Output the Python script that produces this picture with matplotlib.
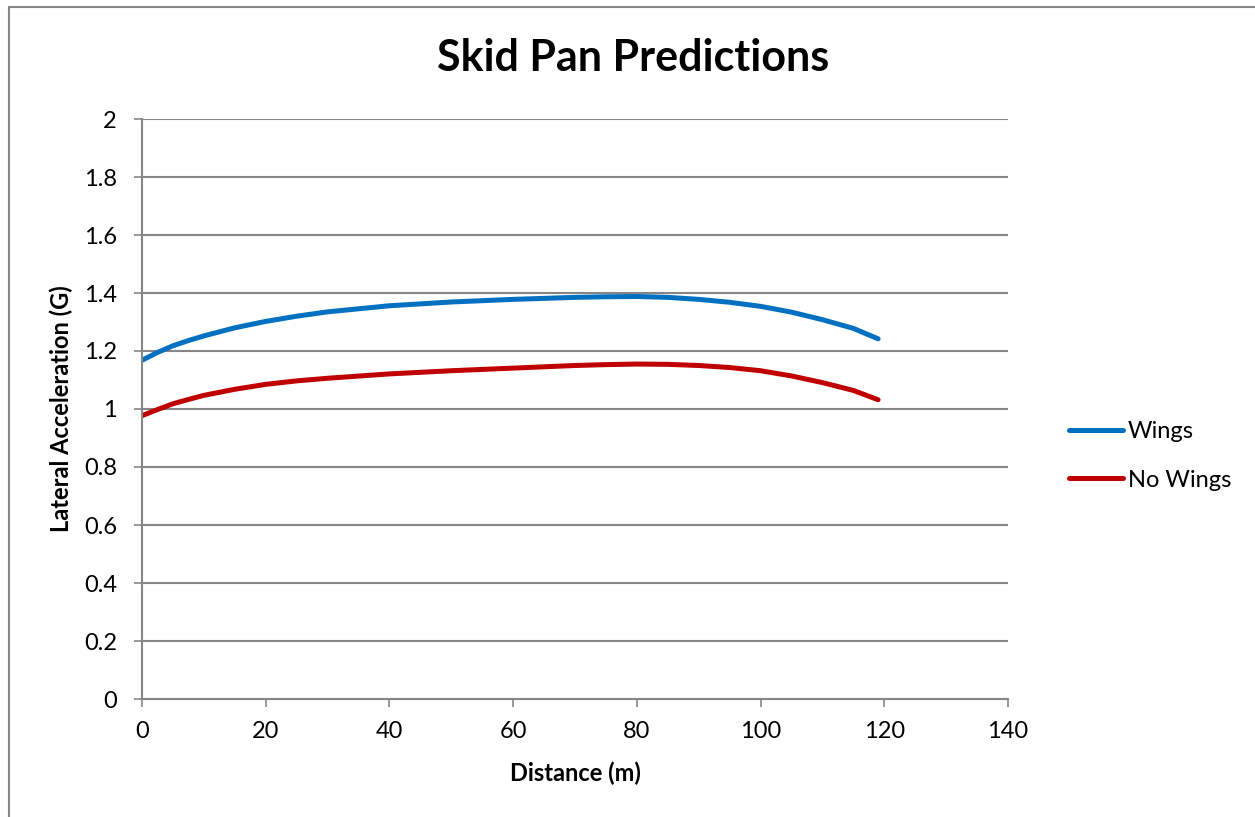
import matplotlib
matplotlib.use("Agg")
import matplotlib.pyplot as plt
from matplotlib.patches import Rectangle

plt.rcParams['font.family'] = ['Lato', 'DejaVu Sans']

# distance along the skid pan (m)
distance = [0, 2.5, 5, 7.5, 10, 15, 20, 25, 30, 40, 50, 60, 70, 75, 80, 85, 90, 95, 100, 105, 110, 115, 119]
# lateral acceleration (G)
wings = [1.168, 1.195, 1.218, 1.236, 1.252, 1.280, 1.302, 1.320, 1.335, 1.356, 1.369,
         1.378, 1.385, 1.387, 1.388, 1.385, 1.378, 1.368, 1.354, 1.334, 1.308, 1.278, 1.242]
no_wings = [0.977, 0.998, 1.018, 1.033, 1.047, 1.068, 1.085, 1.097, 1.106, 1.121, 1.132,
            1.141, 1.150, 1.153, 1.155, 1.154, 1.150, 1.143, 1.132, 1.114, 1.091, 1.064, 1.032]

grey = '#868686'

fig = plt.figure(figsize=(12.55, 8.17), dpi=100)
ax = fig.add_axes([142/1255, 1 - 699/817, 866/1255, 580/817])

# chart area border like the spreadsheet export
fig.patches.append(Rectangle((9/1255, -0.05), 1.1, 1 - 7/817 + 0.05,
                             transform=fig.transFigure, fill=False,
                             edgecolor=grey, lw=1.5))

ax.plot(distance, wings, color='#0070C0', lw=3.6, label='Wings', solid_capstyle='round')
ax.plot(distance, no_wings, color='#C00000', lw=3.6, label='No Wings', solid_capstyle='round')

ax.set_xlim(0, 140)
ax.set_ylim(0, 2)
ax.set_xticks(range(0, 141, 20))
ax.set_yticks([0, 0.2, 0.4, 0.6, 0.8, 1, 1.2, 1.4, 1.6, 1.8, 2])
ax.set_yticklabels(['0', '0.2', '0.4', '0.6', '0.8', '1', '1.2', '1.4', '1.6', '1.8', '2'])
ax.grid(axis='y', color=grey, lw=1.5)
ax.set_axisbelow(True)
for s in ['top', 'right']:
    ax.spines[s].set_visible(False)
for s in ['left', 'bottom']:
    ax.spines[s].set_color(grey)
    ax.spines[s].set_linewidth(1.5)
ax.tick_params(colors=grey, labelcolor='black', labelsize=17, length=6, width=1.2)
ax.tick_params(axis='x', pad=10)
ax.tick_params(axis='y', pad=12)

ax.set_xlabel('Distance (m)', fontsize=17, fontweight='bold', labelpad=14)
ax.set_ylabel('Lateral Acceleration (G)', fontsize=17, fontweight='bold', labelpad=8)
fig.text(633/1255, 1 - 58/817, 'Skid Pan Predictions', fontsize=31, fontweight='bold',
         ha='center', va='center')

ax.legend(loc='center left', bbox_to_anchor=(1.0704, 0.419), frameon=False,
          borderaxespad=0, borderpad=0,
          fontsize=17, handlelength=2.3, handletextpad=0.2, labelspacing=1.15)

fig.savefig('out.png', dpi=100)
